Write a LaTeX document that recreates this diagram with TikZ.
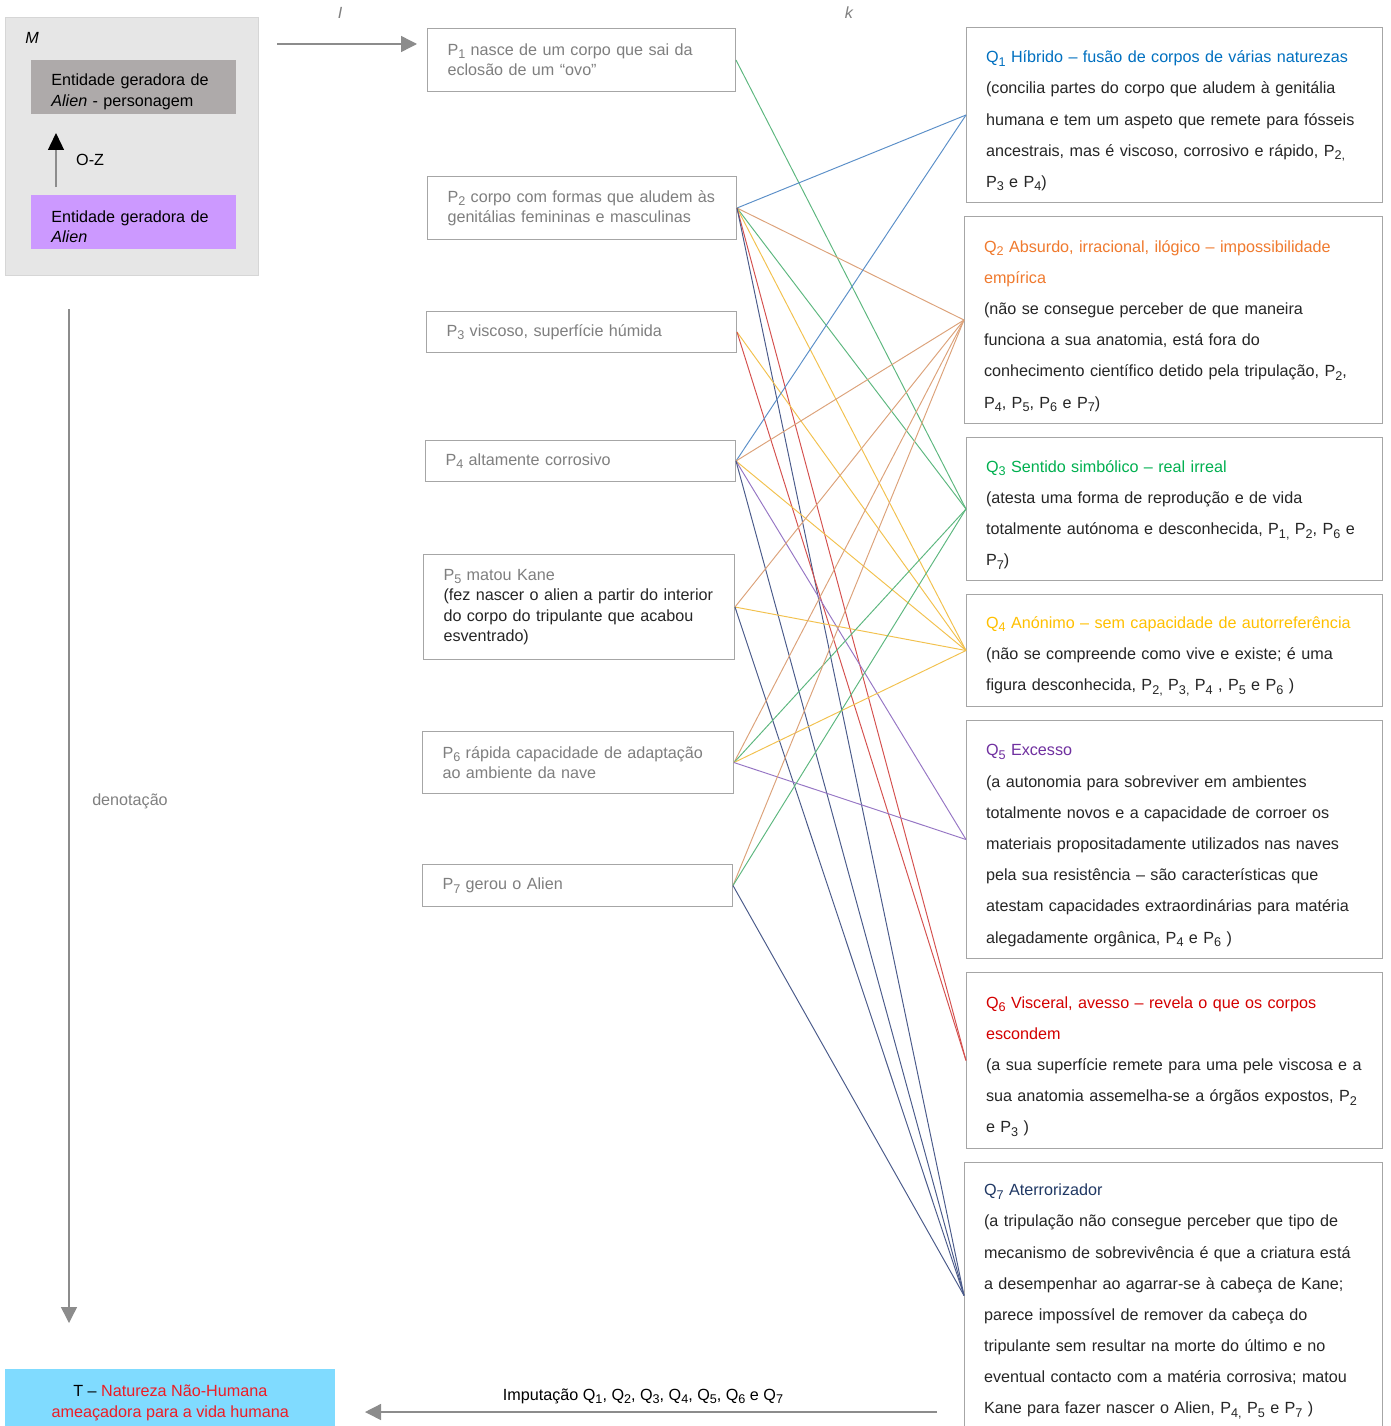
\documentclass[tikz,border=0pt]{standalone}
\usepackage{fontspec}
\setmainfont{Liberation Sans}
\usetikzlibrary{arrows.meta}
\definecolor{boxgray}{HTML}{A6A6A6}
\definecolor{pgray}{HTML}{7F7F7F}
\definecolor{qtxt}{HTML}{262626}
\definecolor{arrgray}{HTML}{8C8C8C}
\definecolor{mfill}{HTML}{E6E6E6}
\definecolor{mline}{HTML}{D6D6D6}
\definecolor{persfill}{HTML}{AEAAAA}
\definecolor{alienfill}{HTML}{CC99FF}
\definecolor{tfill}{HTML}{80DBFF}
\definecolor{tred}{HTML}{EE1C25}
\definecolor{qblue}{HTML}{0070C0}
\definecolor{qorange}{HTML}{F07A2E}
\definecolor{qgreen}{HTML}{00B050}
\definecolor{qyellow}{HTML}{FFC000}
\definecolor{qpurple}{HTML}{7030A0}
\definecolor{qred}{HTML}{D40000}
\definecolor{qnavy}{HTML}{203864}
\definecolor{lblue}{HTML}{5B8FC8}
\definecolor{lorange}{HTML}{DCA27A}
\definecolor{lgreen}{HTML}{5DB77F}
\definecolor{lyellow}{HTML}{F2C14E}
\definecolor{lred}{HTML}{D4504E}
\definecolor{lnavy}{HTML}{4A5A8A}
\definecolor{lpurple}{HTML}{9676C4}
\newcommand{\ix}[1]{{\fontsize{7.2}{7.2}\selectfont\raisebox{-0.5ex}{#1}}}
\newcommand{\ptext}{\fontsize{9.2}{11.6}\selectfont}
\newcommand{\qtext}{\fontsize{9.2}{17.75}\selectfont}
\tikzset{
  pbox/.style={draw=boxgray, line width=0.6pt, fill=white, anchor=north west,
    inner xsep=0.4cm, inner ysep=0pt, align=left, font=\ptext, text=pgray},
  qbox/.style={draw=boxgray, line width=0.6pt, fill=white, anchor=north west,
    inner xsep=0.39cm, inner ysep=0pt, align=left, font=\qtext, text=qtxt,
    execute at begin node={\rule{0pt}{13.4pt}}},
  mbox/.style={draw=mline, fill=mfill, line width=0.6pt, anchor=north west,
    minimum width=5.06cm, minimum height=5.16cm},
  entbox/.style={anchor=north west, inner xsep=0.4cm, inner ysep=0pt, align=left,
    font=\ptext, text=black, text width=3.3cm, minimum height=1.08cm,
    execute at begin node={\rule{0pt}{11.8pt}}},
  tag/.style={font=\ptext, text=pgray},
  link/.style={line width=0.55pt},
  grayarrow/.style={draw=arrgray, line width=0.8pt,
    -{Triangle[length=0.32cm,width=0.32cm]}},
}
\begin{document}
\begin{tikzpicture}[x=0.02cm, y=-0.02cm]
  \useasboundingbox (0,0) rectangle (1390,1426);

  \node [mbox] (m) at (5,17) {};
  \node [font=\ptext\itshape] (mlabel) at (32,38) {M};
  \node [entbox, fill=persfill] (pers) at (31,60) {Entidade geradora de\\\textit{Alien} - personagem};
  \node [entbox, fill=alienfill] (alien) at (31,195) {Entidade geradora de\\\textit{Alien}};
  \coordinate (ozfrom) at (56,187);
  \coordinate (ozto) at (56,133);
  \draw [draw=arrgray, line width=0.8pt, -{Triangle[length=0.34cm,width=0.32cm,color=black]}] (ozfrom) -- (ozto);
  \node [font=\ptext, anchor=west] (oz) at (70,160) {O-Z};

  \coordinate (ifrom) at (277,44);
  \coordinate (ito) at (417,44);
  \draw [grayarrow] (ifrom) -- (ito);
  \node [tag, font=\ptext\itshape] (ilabel) at (340,13) {I};
  \node [tag, font=\ptext\itshape] (klabel) at (849,13) {k};

  \node [pbox, text width=5.36cm, minimum height=1.26cm] (p1) at (427,28) {P\ix{1} nasce de um corpo que sai da\\eclosão de um “ovo”};
  \node [pbox, text width=5.38cm, minimum height=1.26cm] (p2) at (427,176) {P\ix{2} corpo com formas que aludem às\\genitálias femininas e masculinas};
  \node [pbox, text width=5.40cm, minimum height=0.82cm] (p3) at (426,311) {P\ix{3} viscoso, superfície húmida};
  \node [pbox, text width=5.40cm, minimum height=0.82cm] (p4) at (425,440) {P\ix{4} altamente corrosivo};
  \node [pbox, text width=5.42cm, minimum height=2.10cm] (p5) at (423,554) {P\ix{5} matou Kane\\\color{qtxt}(fez nascer o alien a partir do interior\\\color{qtxt}do corpo do tripulante que acabou\\\color{qtxt}esventrado)};
  \node [pbox, text width=5.42cm, minimum height=1.24cm] (p6) at (422,731) {P\ix{6} rápida capacidade de adaptação\\ao ambiente da nave};
  \node [pbox, text width=5.40cm, minimum height=0.84cm] (p7) at (422,864) {P\ix{7} gerou o Alien};

  \node [qbox, text width=7.54cm, minimum height=3.50cm] (q1) at (966,27) {\textcolor{qblue}{Q\ix{1} Híbrido – fusão de corpos de várias naturezas}\\(concilia partes do corpo que aludem à genitália\\humana e tem um aspeto que remete para fósseis\\ancestrais, mas é viscoso, corrosivo e rápido, P\ix{2,}\\P\ix{3} e P\ix{4})};
  \node [qbox, text width=7.58cm, minimum height=4.14cm] (q2) at (964,216) {\textcolor{qorange}{Q\ix{2} Absurdo, irracional, ilógico – impossibilidade}\\\textcolor{qorange}{empírica}\\(não se consegue perceber de que maneira\\funciona a sua anatomia, está fora do\\conhecimento científico detido pela tripulação, P\ix{2},\\P\ix{4}, P\ix{5}, P\ix{6} e P\ix{7})};
  \node [qbox, text width=7.54cm, minimum height=2.86cm] (q3) at (966,437) {\textcolor{qgreen}{Q\ix{3} Sentido simbólico – real irreal}\\(atesta uma forma de reprodução e de vida\\totalmente autónoma e desconhecida, P\ix{1,} P\ix{2}, P\ix{6} e\\P\ix{7})};
  \node [qbox, text width=7.54cm, minimum height=2.24cm] (q4) at (966,594) {\textcolor{qyellow}{Q\ix{4} Anónimo – sem capacidade de autorreferência}\\(não se compreende como vive e existe; é uma\\figura desconhecida, P\ix{2,} P\ix{3,} P\ix{4} , P\ix{5} e P\ix{6} )};
  \node [qbox, text width=7.54cm, minimum height=4.76cm] (q5) at (966,720) {\textcolor{qpurple}{Q\ix{5} Excesso}\\(a autonomia para sobreviver em ambientes\\totalmente novos e a capacidade de corroer os\\materiais propositadamente utilizados nas naves\\pela sua resistência – são características que\\atestam capacidades extraordinárias para matéria\\alegadamente orgânica, P\ix{4} e P\ix{6} )};
  \node [qbox, text width=7.54cm, minimum height=3.52cm] (q6) at (966,972) {\textcolor{qred}{Q\ix{6} Visceral, avesso – revela o que os corpos}\\\textcolor{qred}{escondem}\\(a sua superfície remete para uma pele viscosa e a\\sua anatomia assemelha-se a órgãos expostos, P\ix{2}\\e P\ix{3} )};
  \node [qbox, text width=7.58cm, minimum height=5.32cm] (q7) at (964,1162) {\textcolor{qnavy}{Q\ix{7} Aterrorizador}\\(a tripulação não consegue perceber que tipo de\\mecanismo de sobrevivência é que a criatura está\\a desempenhar ao agarrar-se à cabeça de Kane;\\parece impossível de remover da cabeça do\\tripulante sem resultar na morte do último e no\\eventual contacto com a matéria corrosiva; matou\\Kane para fazer nascer o Alien, P\ix{4,} P\ix{5} e P\ix{7} )};

  \path [link] (p1.east) edge [lgreen] (q3.west);
  \path [link] (p2.east) edge [lblue] (q1.west);
  \path [link] (p2.east) edge [lorange] (q2.west);
  \path [link] (p2.east) edge [lgreen] (q3.west);
  \path [link] (p2.east) edge [lyellow] (q4.west);
  \path [link] (p2.east) edge [lred] (q6.west);
  \path [link] (p2.east) edge [lnavy] (q7.west);
  \path [link] (p3.east) edge [lyellow] (q4.west);
  \path [link] (p3.east) edge [lred] (q6.west);
  \path [link] (p4.east) edge [lblue] (q1.west);
  \path [link] (p4.east) edge [lorange] (q2.west);
  \path [link] (p4.east) edge [lyellow] (q4.west);
  \path [link] (p4.east) edge [lpurple] (q5.west);
  \path [link] (p4.east) edge [lnavy] (q7.west);
  \path [link] (p5.east) edge [lorange] (q2.west);
  \path [link] (p5.east) edge [lyellow] (q4.west);
  \path [link] (p5.east) edge [lnavy] (q7.west);
  \path [link] (p6.east) edge [lorange] (q2.west);
  \path [link] (p6.east) edge [lgreen] (q3.west);
  \path [link] (p6.east) edge [lyellow] (q4.west);
  \path [link] (p6.east) edge [lpurple] (q5.west);
  \path [link] (p7.east) edge [lorange] (q2.west);
  \path [link] (p7.east) edge [lgreen] (q3.west);
  \path [link] (p7.east) edge [lnavy] (q7.west);

  \coordinate (denfrom) at (69,309);
  \coordinate (dento) at (69,1323);
  \draw [grayarrow] (denfrom) -- (dento);
  \node [tag] (den) at (130,801) {denotação};

  \node [fill=tfill, anchor=north west, minimum width=6.6cm, minimum height=1.36cm,
    align=center, font=\fontsize{9.2}{11.9}\selectfont] (t) at (5,1369)
    {T – \textcolor{tred}{Natureza Não-Humana}\\\textcolor{tred}{ameaçadora para a vida humana}};
  \coordinate (impfrom) at (937,1412);
  \coordinate (impto) at (365,1412);
  \draw [grayarrow] (impfrom) -- (impto);
  \node [font=\ptext] (imp) at (643,1396) {Imputação Q\ix{1}, Q\ix{2}, Q\ix{3}, Q\ix{4}, Q\ix{5}, Q\ix{6} e Q\ix{7}};
\end{tikzpicture}
\end{document}
